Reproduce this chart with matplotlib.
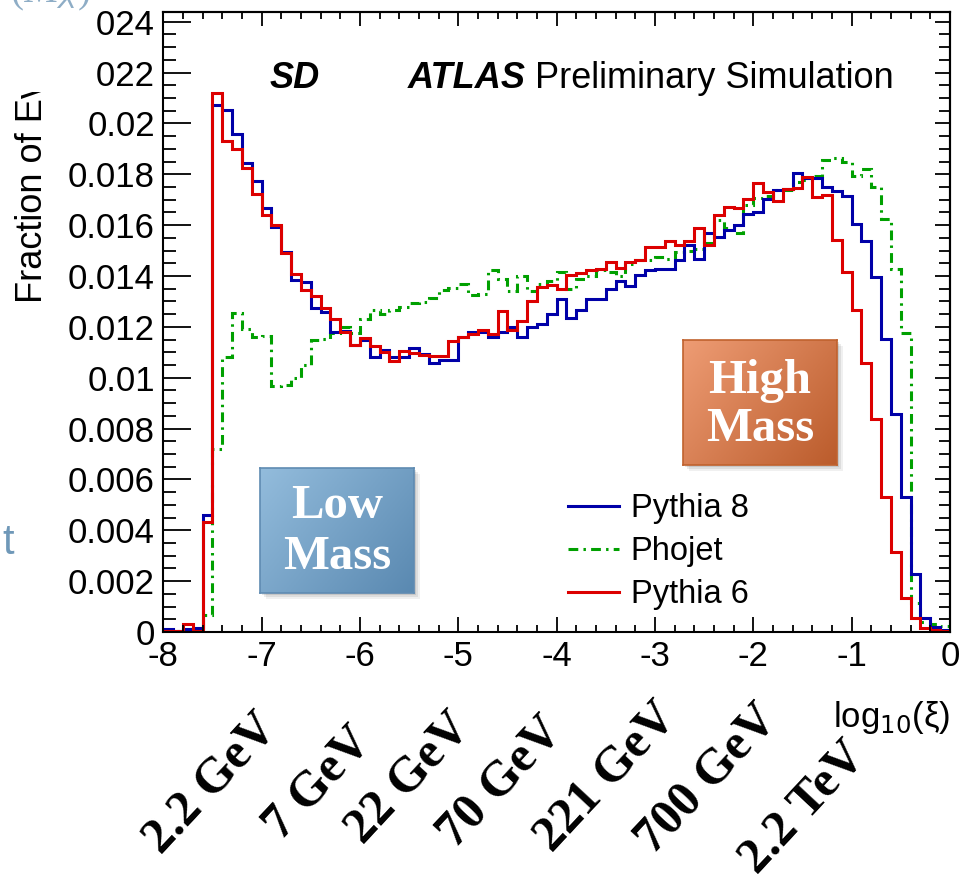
import numpy as np
import matplotlib
matplotlib.use("Agg")
import matplotlib.pyplot as plt
from matplotlib.ticker import MultipleLocator, FixedLocator, FixedFormatter
from matplotlib.patches import Rectangle
from matplotlib.lines import Line2D

# ---------------- data (fraction of events, in units of 1e-3) ----------------
x_min, x_max, n_bins = -8.0, 0.0, 80

pythia8 = [0.10, 0.05, 0.10, 0.14, 4.60,
           20.71, 20.51, 19.60, 18.44, 17.73,
           16.69, 15.93, 14.94, 13.83, 13.77,
           12.74, 12.59, 11.80, 11.84, 11.28,
           11.47, 10.82, 11.08, 10.82, 10.82,
           11.17, 10.95, 10.56, 10.71, 10.71,
           11.60, 11.80, 11.80, 11.60, 11.80,
           12.00, 11.60, 12.00, 12.13, 12.52,
           13.11, 12.36, 12.65, 13.11, 13.11,
           13.50, 13.79, 13.60, 14.05, 14.22,
           14.29, 14.29, 14.62, 15.21, 14.66,
           15.70, 15.53, 15.82, 16.02, 16.42,
           16.52, 17.04, 17.39, 17.43, 18.05,
           17.87, 17.86, 17.50, 17.34, 17.13,
           16.03, 15.38, 13.96, 11.54, 8.59,
           5.32, 2.27, 0.54, 0.18, 0.08]

pythia6 = [0.05, 0.05, 0.31, 0.05, 4.34,
           21.20, 19.29, 19.00, 18.26, 17.21,
           16.39, 15.99, 14.92, 14.07, 13.46,
           13.20, 12.76, 12.32, 11.80, 11.28,
           11.58, 11.25, 11.01, 10.65, 11.04,
           10.98, 10.88, 10.85, 10.85, 11.45,
           11.60, 11.70, 11.87, 11.71, 12.61,
           11.87, 12.22, 13.02, 13.57, 13.63,
           13.48, 14.05, 14.13, 14.22, 14.29,
           14.55, 14.33, 14.55, 14.62, 15.14,
           15.14, 15.38, 15.21, 15.36, 15.88,
           15.23, 16.38, 16.71, 16.67, 17.04,
           17.66, 17.30, 16.95, 17.41, 17.47,
           17.88, 17.10, 17.17, 15.43, 14.17,
           12.68, 10.56, 8.36, 5.29, 3.13,
           1.32, 0.54, 0.14, 0.08, 0.04]

phojet = [0.00, 0.02, 0.08, 0.05, 0.67,
          7.20, 10.80, 12.55, 11.90, 11.60,
          11.63, 9.67, 9.70, 9.97, 10.50,
          11.50, 11.54, 11.76, 12.00, 11.74,
          12.29, 12.65, 12.52, 12.65, 12.78,
          12.94, 12.98, 13.15, 13.44, 13.54,
          13.70, 13.24, 13.30, 14.22, 13.90,
          13.40, 14.00, 13.40, 13.70, 13.80,
          14.15, 13.50, 13.90, 14.00, 14.22,
          14.15, 14.00, 14.48, 14.62, 14.62,
          14.75, 14.68, 14.94, 15.00, 15.08,
          15.30, 16.19, 15.90, 15.69, 16.78,
          17.08, 17.13, 17.37, 17.37, 17.69,
          17.79, 17.93, 18.57, 18.65, 18.48,
          17.92, 18.20, 17.50, 16.25, 14.29,
          11.76, 1.13, 0.40, 0.30, 0.25]

y_ticks = [0, 0.002, 0.004, 0.006, 0.008, 0.01, 0.012, 0.014, 0.016,
           0.018, 0.02, 0.022, 0.024]
y_tick_labels = ["0", "0.002", "0.004", "0.006", "0.008", "0.01", "0.012",
                 "0.014", "0.016", "0.018", "0.02", "0.022", "0.024"]
x_ticks = [-8, -7, -6, -5, -4, -3, -2, -1, 0]
x_tick_labels = ["-8", "-7", "-6", "-5", "-4", "-3", "-2", "-1", "0"]
legend_labels = ["Pythia 8", "Phojet", "Pythia 6"]
mass_labels = ["2.2 GeV", "7 GeV", "22 GeV", "70 GeV", "221 GeV", "700 GeV", "2.2 TeV"]

# ---------------- layout / style ----------------
W, H, DPI = 959, 885, 100
plt.rcParams["font.family"] = ["Liberation Sans", "DejaVu Sans"]
plt.rcParams["axes.unicode_minus"] = False

def fx(px):
    return px / W

def fy(py):
    return 1 - py / H

def pt(px):
    return px * 72.0 / DPI

fig = plt.figure(figsize=(W / DPI, H / DPI), dpi=DPI)
ax_l, ax_r, ax_t, ax_b = 163.3, 950.0, 12.3, 632.0
ax = fig.add_axes([fx(ax_l), fy(ax_b), fx(ax_r - ax_l), (ax_b - ax_t) / H])

edges = np.linspace(x_min, x_max, n_bins + 1)
c_blue, c_green, c_red = "#0000a8", "#00a000", "#dc0000"
green_ls = (0, (3.2, 1.7, 0.8, 1.7))
lw = 2.2

ax.stairs(np.array(phojet) * 1e-3, edges, color=c_green, lw=lw, linestyle=green_ls)
ax.stairs(np.array(pythia8) * 1e-3, edges, color=c_blue, lw=lw)
ax.stairs(np.array(pythia6) * 1e-3, edges, color=c_red, lw=lw)

ax.set_xlim(x_min, x_max)
ax.set_ylim(0, 0.02437)

for s in ax.spines.values():
    s.set_linewidth(1.5)

ax.xaxis.set_major_locator(FixedLocator(x_ticks))
ax.xaxis.set_major_formatter(FixedFormatter(x_tick_labels))
ax.xaxis.set_minor_locator(MultipleLocator(0.2))
ax.yaxis.set_major_locator(FixedLocator(y_ticks))
ax.yaxis.set_major_formatter(FixedFormatter(y_tick_labels))
ax.yaxis.set_minor_locator(MultipleLocator(0.0005))

ax.tick_params(axis="x", which="major", direction="in", length=pt(15), width=1.3,
               labelsize=25, pad=6, top=False)
ax.tick_params(axis="x", which="minor", direction="in", length=pt(7.5), width=1.3, top=False)
ax.tick_params(axis="y", which="major", direction="in", length=pt(28), width=1.3,
               labelsize=25, pad=6, right=False)
ax.tick_params(axis="y", which="minor", direction="in", length=pt(13), width=1.3, right=False)

sec_x = ax.secondary_xaxis("top")
sec_x.set_xticks(x_ticks)
sec_x.xaxis.set_minor_locator(MultipleLocator(0.2))
sec_x.tick_params(which="major", direction="in", length=pt(14), width=1.3, labeltop=False)
sec_x.tick_params(which="minor", direction="in", length=pt(7), width=1.3)
sec_x.spines["top"].set_linewidth(1.5)

sec_y = ax.secondary_yaxis("right")
sec_y.set_yticks(y_ticks)
sec_y.yaxis.set_minor_locator(MultipleLocator(0.0005))
sec_y.tick_params(which="major", direction="in", length=pt(15), width=1.3, labelright=False)
sec_y.tick_params(which="minor", direction="in", length=pt(11), width=1.3)
sec_y.spines["right"].set_linewidth(1.5)

# axis titles
fig.text(fx(33), fy(303), "Fraction of Events", rotation=90, ha="center", va="bottom",
         fontsize=26)
fig.text(fx(950), fy(727), "log$_{10}$(ξ)", ha="right", va="baseline", fontsize=25)

# header texts
fig.text(fx(270), fy(88), "SD", fontsize=26, fontweight="bold", fontstyle="italic",
         va="baseline", ha="left")
fig.text(fx(408), fy(88), "ATLAS", fontsize=26, fontweight="bold", fontstyle="italic",
         va="baseline", ha="left")
fig.text(fx(535), fy(88), "Preliminary Simulation", fontsize=26, va="baseline", ha="left")

# legend
handles = [Line2D([], [], color=c_blue, lw=lw),
           Line2D([], [], color=c_green, lw=lw, linestyle=green_ls),
           Line2D([], [], color=c_red, lw=lw)]
ax.legend(handles, legend_labels, loc="upper left",
          bbox_to_anchor=((568 - ax_l) / (ax_r - ax_l), (ax_b - 493) / (ax_b - ax_t)),
          frameon=False, fontsize=23.5, handlelength=1.55, handletextpad=0.37,
          borderpad=0, borderaxespad=0, labelspacing=0.37)

# white cover in the top-left corner (slide overlay)
fig.add_artist(Rectangle((0, fy(92)), fx(97), 92 / H, transform=fig.transFigure,
                         facecolor="white", edgecolor="none", zorder=4))
fig.text(fx(10), fy(2), "(M$_X$)", fontsize=28, color="#8eadc6", va="baseline",
         ha="left", family="Liberation Serif", zorder=6)
fig.text(fx(2), fy(554), "t", fontsize=30, color="#6f98b8", va="baseline",
         ha="left", zorder=6)

# gradient annotation boxes
def grad_box(x0, y0, x1, y1, c_tl, c_br, c_edge, lines, line_y):
    for i, a in enumerate([0.10, 0.08, 0.06]):
        d = 2 + 2 * i
        fig.add_artist(Rectangle((fx(x0 + d), fy(y1 + d)), fx(x1 - x0), (y1 - y0) / H,
                                 transform=fig.transFigure, facecolor="black",
                                 edgecolor="none", alpha=a, zorder=2))
    bax = fig.add_axes([fx(x0), fy(y1), fx(x1 - x0), (y1 - y0) / H], zorder=5)
    n = 64
    gx, gy = np.meshgrid(np.linspace(0, 1, n), np.linspace(0, 1, n))
    t = np.clip(0.6 * gx + 0.4 * gy, 0, 1)[..., None]
    c1 = np.array(matplotlib.colors.to_rgb(c_tl))
    c2 = np.array(matplotlib.colors.to_rgb(c_br))
    img = c1 * (1 - t) + c2 * t
    bax.imshow(img, extent=(0, 1, 0, 1), origin="upper", aspect="auto")
    bax.set_xlim(0, 1)
    bax.set_ylim(0, 1)
    bax.set_xticks([])
    bax.set_yticks([])
    for s in bax.spines.values():
        s.set_color(c_edge)
        s.set_linewidth(1.2)
    for txt, ly in zip(lines, line_y):
        bax.text(0.5, 1 - (ly - y0) / (y1 - y0), txt, ha="center", va="center",
                 color="white", fontsize=35, fontweight="bold",
                 family="Liberation Serif", transform=bax.transAxes)

grad_box(260, 468, 414, 593, "#93bcdc", "#5a89b1", "#5f8bb2", ["Low", "Mass"], [506, 557])
grad_box(683, 340, 837, 465, "#ee9c74", "#bb5c2c", "#c0622e", ["High", "Mass"], [381, 429])

# rotated mass labels under the x axis
mass_centers = [(211, 784), (318, 784), (409, 779), (501, 783), (607, 778),
                (707, 780), (804, 808)]
for txt, (cx, cy) in zip(mass_labels, mass_centers):
    fig.text(fx(cx), fy(cy), txt, rotation=47, ha="center", va="center",
             fontsize=36, fontweight="bold", family="Liberation Serif")

fig.savefig("out.png", dpi=DPI, facecolor="white")
